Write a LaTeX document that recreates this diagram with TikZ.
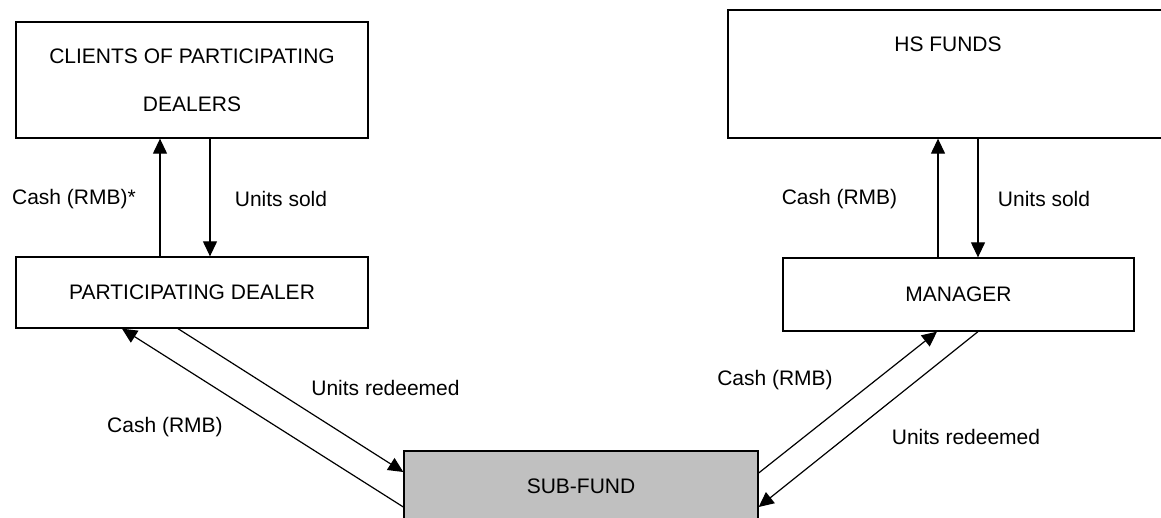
\documentclass[tikz,border=0pt]{standalone}
\usepackage{fontspec}
\setmainfont{Liberation Sans}
\usetikzlibrary{arrows.meta}
\begin{document}
\begin{tikzpicture}[x=1pt,y=-1pt,
  box/.style={draw,line width=1.3pt,inner sep=0pt,font=\fontsize{21}{48}\selectfont,align=center},
  lbl/.style={inner sep=0pt,font=\fontsize{21}{25}\selectfont},
  arr/.style={line width=1.2pt,-{Triangle[length=15pt,width=14pt]}}]
\useasboundingbox (0,0) rectangle (1161,517);
\node[box,minimum width=352pt,minimum height=116pt] (clients) at (192,80) {CLIENTS OF PARTICIPATING\\DEALERS};
\node[box,minimum width=440pt,minimum height=128pt,label={[lbl,anchor=center,yshift=-35pt]north:HS FUNDS}] (hs) at (948,74) {};
\node[box,minimum width=352pt,minimum height=71pt] (pd) at (192,292.5) {PARTICIPATING DEALER};
\node[box,minimum width=351pt,minimum height=73pt] (mgr) at (958.5,294.5) {MANAGER};
\node[box,fill={rgb,255:red,192;green,192;blue,192},minimum width=354pt,minimum height=70pt] (sub) at (581,486) {SUB-FUND};
% vertical arrows left
\draw[arr] (160,0 |- pd.north) -- (160,0 |- clients.south);
\draw[arr] (210,0 |- clients.south) -- (210,0 |- pd.north);
% vertical arrows right
\draw[arr] (938,0 |- mgr.north) -- (938,0 |- hs.south);
\draw[arr] (978,0 |- hs.south) -- (978,0 |- mgr.north);
% diagonals left
\draw[arr] (178,0 |- pd.south) -- (sub.west |- 0,472);
\draw[arr] (sub.west |- 0,507) -- (122,0 |- pd.south);
% diagonals right
\draw[arr] (sub.east |- 0,473) -- (937,0 |- mgr.south);
\draw[arr] (978,0 |- mgr.south) -- (sub.east |- 0,507);
% labels
\node[lbl] (l1) at (74,199) {Cash (RMB)*};
\node[lbl] (l2) at (281,199) {Units sold};
\node[lbl] (l3) at (839.5,199) {Cash (RMB)};
\node[lbl] (l4) at (1044,199) {Units sold};
\node[lbl] (l5) at (385.5,388) {Units redeemed};
\node[lbl] (l6) at (165,427) {Cash (RMB)};
\node[lbl] (l7) at (775,380) {Cash (RMB)};
\node[lbl] (l8) at (966,437) {Units redeemed};
\end{tikzpicture}
\end{document}
